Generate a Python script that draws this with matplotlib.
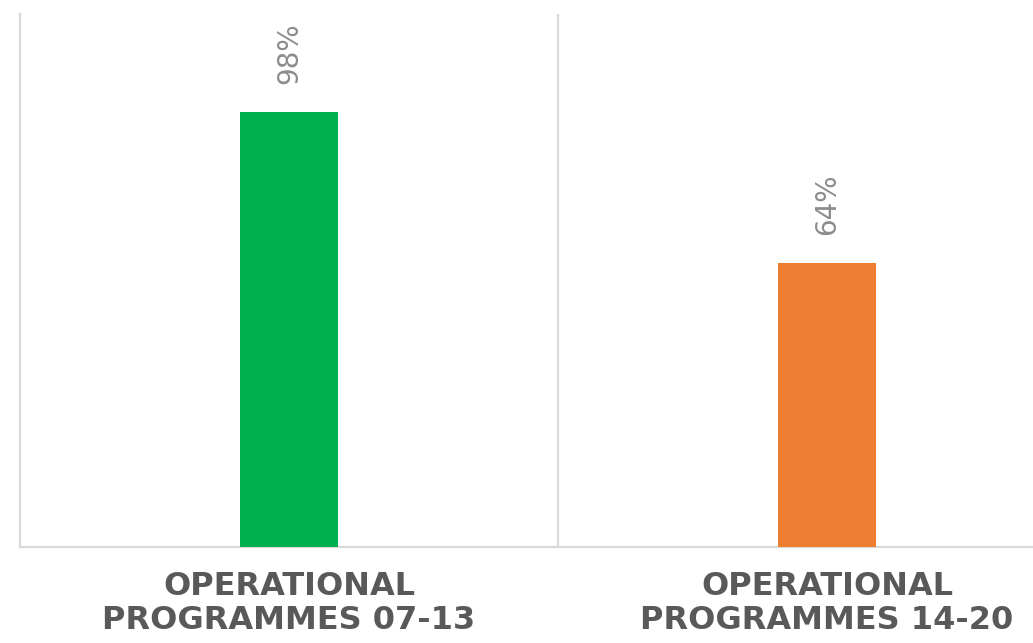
import matplotlib
matplotlib.use("Agg")
import matplotlib.pyplot as plt
import numpy as np

# ── Data ─────────────────────────────────────────────────────────────────
categories = ["OPERATIONAL\nPROGRAMMES 07-13", "OPERATIONAL\nPROGRAMMES 14-20"]
values = [98, 64]
value_labels = ["98%", "64%"]
bar_colors = ["#00B050", "#ED7D31"]

_GRID = "#d9d9d9"
_LABEL = "#595959"
_VALUE = "#8c8c8c"

fig = plt.figure(figsize=(10.33, 6.43), dpi=100)
fig.patch.set_facecolor("white")

# plot area is wider than the figure: the right border is cut off
ax = fig.add_axes([20 / 1033, 96 / 643, 1076 / 1033, 533 / 643])
ax.set_facecolor("white")

x = np.arange(len(categories))
bars = ax.bar(x, values, width=0.182, color=bar_colors, zorder=3)

ax.set_xlim(-0.5, len(categories) - 0.5)
ax.set_ylim(0, 120)
ax.set_yticks([])

# category separators
ax.set_xticks(x[:-1] + 0.5, minor=True)
ax.grid(which="minor", axis="x", color=_GRID, linewidth=1.6)
ax.tick_params(which="minor", length=0)

ax.set_xticks(x)
ax.set_xticklabels(categories, fontsize=23, fontweight="bold", color=_LABEL,
                   linespacing=1.15)
ax.tick_params(axis="x", which="major", length=0, pad=17)

for side in ("top", "right"):
    ax.spines[side].set_visible(False)
for side in ("left", "bottom"):
    ax.spines[side].set_color(_GRID)
    ax.spines[side].set_linewidth(1.6)

# rotated value labels above each bar
for rect, lbl in zip(bars, value_labels):
    ax.annotate(lbl, (rect.get_x() + rect.get_width() / 2, rect.get_height()),
                xytext=(0, 20), textcoords="offset points",
                rotation=90, ha="center", va="bottom",
                fontsize=20, color=_VALUE)

fig.savefig("out.png", dpi=100, facecolor="white")
plt.close(fig)
